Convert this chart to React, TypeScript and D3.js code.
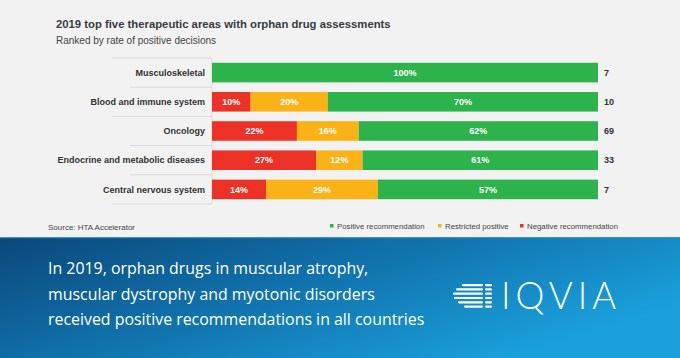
import React from "react";
import * as d3 from "d3";

const categories = [
  "Musculoskeletal",
  "Blood and immune system",
  "Oncology",
  "Endocrine and metabolic diseases",
  "Central nervous system",
];
const negative = [0, 10, 22, 27, 14];
const restricted = [0, 20, 16, 12, 29];
const positive = [100, 70, 62, 61, 57];
const counts = [7, 10, 69, 33, 7];
const seriesNames = ["Negative recommendation", "Restricted positive", "Positive recommendation"];
const legendOrder = ["Positive recommendation", "Restricted positive", "Negative recommendation"];
const title = "2019 top five therapeutic areas with orphan drug assessments";
const subtitle = "Ranked by rate of positive decisions";
const source = "Source: HTA Accelerator";
const bannerLines = [
  "In 2019, orphan drugs in muscular atrophy,",
  "muscular dystrophy and myotonic disorders",
  "received positive recommendations in all countries",
];

const W = 680;
const H = 358;
const colors: Record<string, string> = {
  "Negative recommendation": "#ec3226",
  "Restricted positive": "#fbb217",
  "Positive recommendation": "#2db34c",
};

export default function App() {
  const x = d3.scaleLinear().domain([0, 100]).range([212, 598]);
  const y = d3.scaleBand<string>().domain(categories).range([58, 204]).paddingInner(0.33).paddingOuter(0.165);
  const rows = categories.map((c, i) => ({ c, neg: negative[i], res: restricted[i], pos: positive[i], n: counts[i] }));
  const stack = d3.stack<any>().keys(["neg", "res", "pos"])(rows as any);
  const sepLefts = [112, 130, 112, 130, 130, 112];
  const font = "Liberation Sans, Arial, sans-serif";
  const legendX = [330, 438, 520];

  return (
    <svg width={W} height={H} style={{ position: "absolute", left: 0, top: 0, display: "block" }}>
      <defs>
        <linearGradient id="band" x1="0" y1="0" x2="1" y2="0.55">
          <stop offset="0" stopColor="#0b4879" />
          <stop offset="0.45" stopColor="#106ea8" />
          <stop offset="1" stopColor="#1aa0db" />
        </linearGradient>
      </defs>
      <rect x={0} y={0} width={W} height={238} fill="#f2f2f2" />
      <rect x={0} y={238} width={W} height={H - 238} fill="url(#band)" />
      <rect x={0} y={237} width={W} height={1.2} fill="#3f8fc7" />

      <text x={56} y={28} fontFamily={font} fontWeight="bold" fontSize={11.3} fill="#383c42">{title}</text>
      <text x={56} y={44} fontFamily={font} fontSize={10} fill="#444">{subtitle}</text>

      {sepLefts.map((l, i) => (
        <line key={i} x1={l} x2={212} y1={58 + i * (146 / 5)} y2={58 + i * (146 / 5)} stroke="#dadada" strokeWidth={1} />
      ))}
      <line x1={212} x2={212} y1={58} y2={204} stroke="#dadada" strokeWidth={1} />

      {categories.map((c) => (
        <text key={c} x={205} y={(y(c) as number) + y.bandwidth() / 2} dy="0.35em" textAnchor="end"
          fontFamily={font} fontWeight="bold" fontSize={9} fill="#333">{c}</text>
      ))}

      {stack.map((s, si) => (
        <g key={si}>
          {s.map((d: any, i: number) => {
            const v = d[1] - d[0];
            if (v <= 0) return null;
            const c = categories[i];
            const yy = y(c) as number;
            return (
              <g key={i}>
                <rect x={x(d[0])} y={yy} width={x(d[1]) - x(d[0])} height={y.bandwidth()} fill={colors[seriesNames[si]]} />
                <text x={(x(d[0]) + x(d[1])) / 2} y={yy + y.bandwidth() / 2} dy="0.35em" textAnchor="middle"
                  fontFamily={font} fontWeight="bold" fontSize={9} fill="#fff">{v}%</text>
              </g>
            );
          })}
        </g>
      ))}

      {categories.map((c, i) => (
        <text key={c} x={604} y={(y(c) as number) + y.bandwidth() / 2} dy="0.35em"
          fontFamily={font} fontWeight="bold" fontSize={9} fill="#333">{counts[i]}</text>
      ))}

      <text x={48} y={230} fontFamily={font} fontSize={8} fill="#444">{source}</text>
      {legendOrder.map((n, i) => (
        <g key={n}>
          <rect x={legendX[i]} y={224} width={3.5} height={3.5} fill={colors[n]} />
          <text x={legendX[i] + 7} y={229} fontFamily={font} fontSize={7.8} fill="#444">{n}</text>
        </g>
      ))}

      {bannerLines.map((l, i) => (
        <text key={i} x={48} y={274 + i * 25.5} fontFamily="Open Sans, Noto Sans, sans-serif" fontSize={15.9} fill="#fff">{l}</text>
      ))}

      <g fill="#fff">
        {[0, 1, 2, 3, 4, 5].map((k) => {
          const ly = 284 + k * 4.3;
          const starts = [462, 456, 453, 454, 458, 464];
          return (
            <g key={k}>
              <rect x={starts[k]} y={ly} width={483 - starts[k]} height={2.2} rx={1.1} />
              <rect x={485} y={ly} width={7} height={2.2} rx={1.1} />
            </g>
          );
        })}
      </g>
      <text x={501} y={309} fontFamily="Lato, Open Sans, sans-serif" fontWeight={300} fontSize={36.5} letterSpacing={5} fill="#fff">IQVIA</text>
    </svg>
  );
}
